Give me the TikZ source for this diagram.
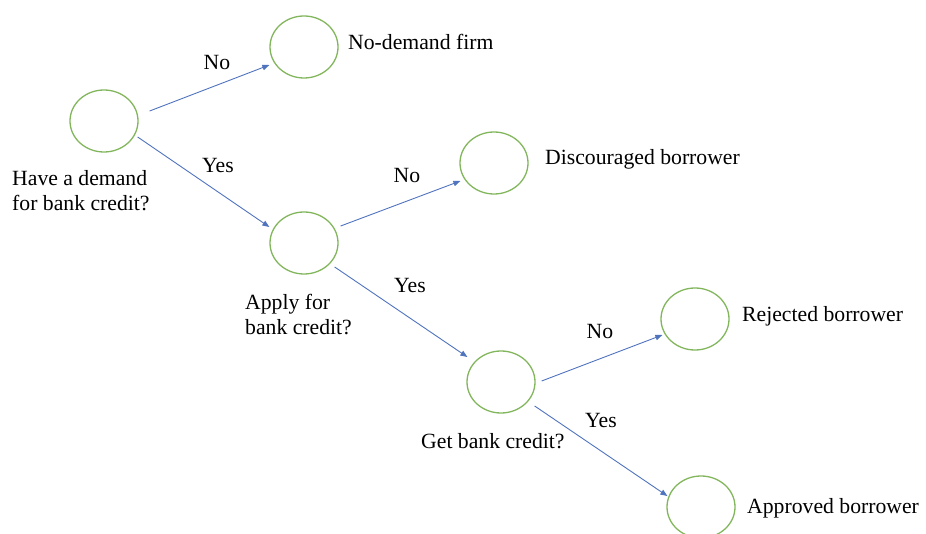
\documentclass[tikz,border=0pt]{standalone}
\usepackage{fontspec}
\setmainfont{Liberation Serif}
\usetikzlibrary{shapes.geometric,arrows.meta}
\definecolor{circgreen}{RGB}{130,182,92}
\definecolor{arrblue}{RGB}{80,115,190}
\begin{document}
\begin{tikzpicture}[x=1pt,y=-1pt,
  state/.style={ellipse,draw=circgreen,line width=1.3pt,minimum width=68pt,minimum height=62pt,inner sep=0pt},
  conn/.style={draw=arrblue,line width=0.9pt,-{Triangle[length=7pt,width=5.5pt]}},
  txt/.style={font=\fontsize{21.7}{25.5}\selectfont,inner sep=0pt,text=black},
  lbl/.style={txt,anchor=base},
  outcome/.style={txt,anchor=base west},
]
\useasboundingbox (0,0) rectangle (926,534);
\clip (0,0) rectangle (926,534);
% circles
\node[state] (demand) at (104,121) {};
\node[state] (nodemand) at (304,47) {};
\node[state] (apply) at (304,243) {};
\node[state] (disc) at (494,163) {};
\node[state] (get) at (501,382) {};
\node[state] (rej) at (695,319) {};
\node[state] (appr) at (701,507) {};
% connectors
\draw[conn] ([shift={(11,-10)}]demand.east) -- ([shift={(0,18)}]nodemand.west);
\draw[conn] ([shift={(-1,16)}]demand.east) -- ([shift={(0,-16)}]apply.west);
\draw[conn] ([shift={(2,-17)}]apply.east) -- ([shift={(1,18)}]disc.west);
\draw[conn] ([shift={(-4,24)}]apply.east) -- ([shift={(1,-25)}]get.west);
\draw[conn] ([shift={(6,-1)}]get.east) -- ([shift={(2,16)}]rej.west);
\draw[conn] ([shift={(-1,24)}]get.east) -- ([shift={(1,-11)}]appr.west);
% branch labels
\node[lbl] (no1) at (217,70) {No};
\node[lbl] (yes1) at (218,173) {Yes};
\node[lbl] (no2) at (407,183) {No};
\node[lbl] (yes2) at (410,293) {Yes};
\node[lbl] (no3) at (600,339) {No};
\node[lbl] (yes3) at (601,427) {Yes};
% outcome labels
\node[outcome] (tnodemand) at (348,50) {No-demand firm};
\node[outcome] (tdisc) at (545,165) {Discouraged borrower};
\node[outcome] (trej) at (742,322) {Rejected borrower};
\node[outcome] (tappr) at (747,513) {Approved borrower};
% question labels
\node[outcome,align=left] (tdemand) at (12,211) {Have a demand\\for bank credit?};
\node[outcome,align=left] (tapply) at (245,335) {Apply for\\bank credit?};
\node[outcome] (tget) at (421,448) {Get bank credit?};
\end{tikzpicture}
\end{document}
